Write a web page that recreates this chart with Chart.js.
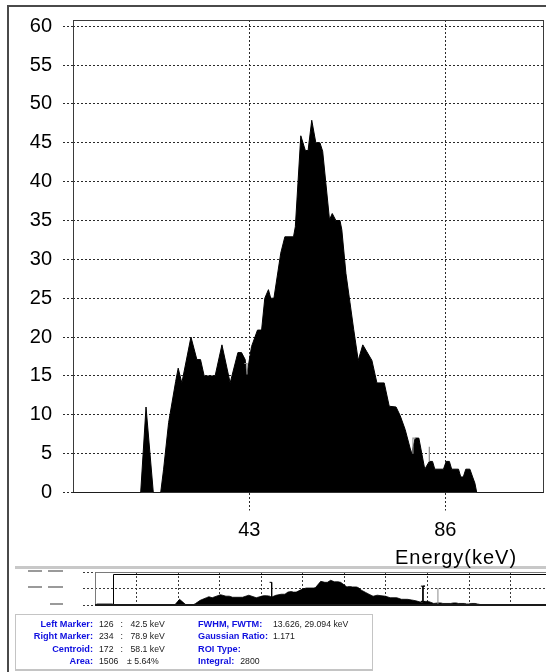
<!DOCTYPE html>
<html><head><meta charset="utf-8">
<script src="https://cdn.jsdelivr.net/npm/chart.js@4.4.1/dist/chart.umd.min.js"></script>
<style>
html,body{margin:0;padding:0;background:#fff;}
body{width:546px;height:672px;position:relative;overflow:hidden;font-family:"Liberation Sans",Arial,sans-serif;}
canvas{position:absolute;}
.ln{position:absolute;}
.t{position:absolute;font-size:8.7px;line-height:12px;white-space:nowrap;color:#1a1a1a;}
.b{font-weight:bold;color:#1010e0;font-size:9.2px;}
.v{font-weight:normal;color:#1a1a1a;font-size:8.7px;margin-left:6px;}
</style></head><body>
<canvas id="main" width="546" height="567" style="left:0;top:0"></canvas>
<canvas id="mini" width="546" height="50" style="left:0;top:562px"></canvas>

<div class="ln" style="left:7px;top:5px;width:2px;height:667px;background:#4a4a4a"></div>
<div class="ln" style="left:7px;top:5px;width:539px;height:2px;background:#4a4a4a"></div>
<div class="ln" style="left:15px;top:566px;width:531px;height:3px;background:#c8c8c8"></div>

<div class="ln" style="left:28px;top:570px;width:14px;height:2px;background:#9a9a9a"></div>
<div class="ln" style="left:48px;top:570px;width:15px;height:2px;background:#9a9a9a"></div>
<div class="ln" style="left:28px;top:586px;width:14px;height:2px;background:#9a9a9a"></div>
<div class="ln" style="left:48px;top:586px;width:15px;height:2px;background:#9a9a9a"></div>
<div class="ln" style="left:50px;top:603px;width:13px;height:2px;background:#9a9a9a"></div>

<div style="position:absolute;left:380px;width:152px;text-align:center;top:545px;font-size:20px;line-height:24px;letter-spacing:1px;color:#000">Energy(keV)</div>

<div style="position:absolute;left:15px;top:614px;width:356px;height:54px;border:1px solid #c4c4c4;border-bottom:2px solid #c4c4c4;background:#fff"></div>

<div class="t b" style="left:0;width:93px;text-align:right;top:618px">Left Marker:</div>
<div class="t b" style="left:0;width:93px;text-align:right;top:630px">Right Marker:</div>
<div class="t b" style="left:0;width:93px;text-align:right;top:643px">Centroid:</div>
<div class="t b" style="left:0;width:93px;text-align:right;top:655px">Area:</div>

<div class="t" style="left:99px;top:618px">126</div><div class="t" style="left:120.5px;top:618px">:</div><div class="t" style="left:130.5px;top:618px">42.5 keV</div>
<div class="t" style="left:99px;top:630px">234</div><div class="t" style="left:120.5px;top:630px">:</div><div class="t" style="left:130.5px;top:630px">78.9 keV</div>
<div class="t" style="left:99px;top:643px">172</div><div class="t" style="left:120.5px;top:643px">:</div><div class="t" style="left:130.5px;top:643px">58.1 keV</div>
<div class="t" style="left:99px;top:655px">1506</div><div class="t" style="left:127px;top:655px">± 5.64%</div>

<div class="t b" style="left:198px;top:618px">FWHM, FWTM:</div><div class="t" style="left:273px;top:618px">13.626, 29.094 keV</div>
<div class="t b" style="left:198px;top:630px">Gaussian Ratio:</div><div class="t" style="left:273px;top:630px">1.171</div>
<div class="t b" style="left:198px;top:643px">ROI Type:</div>
<div class="t b" style="left:198px;top:655px">Integral:<span class="v">2800</span></div>

<script>
// ---- data ----
const energyKeV = [0.3,0.4,4.25,4.3,19.17,20.34,21.94,23.56,24.2,25.3,26.85,27.4,28.2,30.2,31.5,32.3,33.1,35.5,37.0,38.8,40.5,41.3,42.1,42.4,43.5,44.8,45.7,46.4,47.2,47.7,48.4,49.9,50.8,52.7,53.1,54.3,55.3,55.9,56.7,57.6,58.5,59.1,60.6,61.2,62.0,62.9,63.3,64.2,65.1,65.9,66.9,67.9,68.8,69.9,71.0,72.6,73.7,75.2,76.1,77.2,78.6,79.4,80.2,81.5,82.5,83.2,83.7,85.6,86.2,86.9,87.4,88.9,89.4,89.95,90.5,91.4,92.0,92.5,92.9,108.5];
const counts = [0,2,2,0,0,11,0,0,3,9,14.3,16,14.1,20,17.1,17.1,15,15,19,14.1,18,18,17.1,14.9,18.8,20.9,20.9,25,26.1,25,25,30.8,32.9,32.9,34.2,45.9,44,44,47.9,45,45,43.9,35.1,35.9,35,35,33.8,28.2,24.4,21,17,19,18.1,17,14.1,14.1,11.1,11,9.9,8.1,5,7,7,3,4,4,3,3,4,4,3,3,2,2,3,3,2,1.2,0,0];
const yTicks = [0,5,10,15,20,25,30,35,40,45,50,55,60];
const xTicks = [43,86];
const miniXGrid = [10,20,30,40,50,60,70,80,90,100];
const miniYGrid = [0,32,64];
const markerKeV = [42.5,78.9];
const cursorKeV = 82.5;
const mainMarkerSpan = [[15.2,16.6],[5.0,7.0]];
const mainCursorSpan = [4.0,5.9];
const miniMarkerSpan = [[9,44],[7,36.6]];
const miniCursorSpan = [0,32.6];

const X_MIN = 4.32, X_MAX = 107.55, Y_MAX = 60.8;
const MINI_X_MAX = 108.5, MINI_Y_MAX = 64;

const spectrum = energyKeV.map((e,i)=>({x:e,y:counts[i]}));
const FONT = "'Liberation Sans', Arial, sans-serif";
const gridCol = '#2a2a2a';

const boxPlugin = {
  id:'box',
  beforeDatasetsDraw(c){
    const {ctx, chartArea:ca} = c;
    ctx.save(); ctx.strokeStyle='#3a3a3a'; ctx.lineWidth=1;
    ctx.strokeRect(Math.round(ca.left)+0.5, Math.round(ca.top)+0.5, Math.round(ca.right-ca.left)-1, Math.round(ca.bottom-ca.top)-1);
    ctx.restore();
  }
};

const lineDs = (pts, color, w, order) => ({data:pts, borderColor:color, borderWidth:w, fill:false, pointRadius:0, order:order});

new Chart(document.getElementById('main'), {
  type:'line',
  data:{datasets:[
    {data:spectrum, borderColor:'#000', backgroundColor:'#000', borderWidth:1, fill:'origin', pointRadius:0, order:2},
    lineDs([{x:markerKeV[0]-0.6,y:mainMarkerSpan[0][1]},{x:markerKeV[0],y:mainMarkerSpan[0][1]},{x:markerKeV[0],y:mainMarkerSpan[0][0]}], '#8c8c8c', 1.2, 0),
    lineDs([{x:markerKeV[1],y:mainMarkerSpan[1][0]},{x:markerKeV[1],y:mainMarkerSpan[1][1]},{x:markerKeV[1]+0.6,y:mainMarkerSpan[1][1]}], '#9a9a9a', 1.2, 0),
    lineDs([{x:cursorKeV,y:mainCursorSpan[0]},{x:cursorKeV,y:mainCursorSpan[1]}], '#8c8c8c', 1.2, 0)
  ]},
  options:{
    responsive:false, animation:false, devicePixelRatio:1,
    layout:{padding:{top:20,right:2.5,left:0,bottom:0}},
    plugins:{legend:{display:false}, tooltip:{enabled:false}},
    scales:{
      x:{type:'linear', min:X_MIN, max:X_MAX,
         afterBuildTicks:s=>{s.ticks = xTicks.map(v=>({value:v}));},
         afterFit:s=>{s.height = 74.5; s.paddingLeft=0; s.paddingRight=0;},
         ticks:{font:{family:FONT,size:20}, color:'#000', padding:8, maxRotation:0, autoSkip:false},
         grid:{color:gridCol, lineWidth:1, tickLength:18, tickColor:gridCol, tickBorderDash:[2,2]},
         border:{display:false, dash:[2,2]}},
      y:{type:'linear', min:0, max:Y_MAX,
         afterBuildTicks:s=>{s.ticks = yTicks.map(v=>({value:v}));},
         afterFit:s=>{s.width = 73; s.paddingTop=0; s.paddingBottom=0;},
         ticks:{font:{family:FONT,size:20}, color:'#000', padding:11},
         grid:{color:gridCol, lineWidth:1, tickLength:10, tickColor:gridCol, tickBorderDash:[2,2]},
         border:{display:false, dash:[2,2]}}
    }
  },
  plugins:[boxPlugin]
});

const miniFrame = {
  id:'miniFrame',
  beforeDatasetsDraw(c){
    const {ctx, chartArea:ca} = c;
    ctx.save(); ctx.strokeStyle='#7a7a7a'; ctx.lineWidth=1;
    ctx.beginPath();
    ctx.moveTo(Math.round(ca.left)+0.5, ca.bottom);
    ctx.lineTo(Math.round(ca.left)+0.5, Math.round(ca.top)+0.5);
    ctx.lineTo(ca.right, Math.round(ca.top)+0.5);
    ctx.stroke(); ctx.restore();
  },
  afterDatasetsDraw(c){
    const {ctx, chartArea:ca, scales} = c;
    const x0 = Math.round(scales.x.getPixelForValue(X_MIN))+0.5;
    const y0 = Math.round(scales.y.getPixelForValue(Y_MAX))+0.5;
    ctx.save();
    ctx.strokeStyle='#000'; ctx.lineWidth=1;
    ctx.beginPath(); ctx.moveTo(x0, ca.bottom); ctx.lineTo(x0, y0); ctx.lineTo(ca.right, y0); ctx.stroke();
    ctx.strokeStyle='#1a1a1a'; ctx.lineWidth=2;
    ctx.beginPath(); ctx.moveTo(ca.left, ca.bottom); ctx.lineTo(ca.right, ca.bottom); ctx.stroke();
    ctx.restore();
  }
};

const m0 = markerKeV[0], m1 = markerKeV[1];
new Chart(document.getElementById('mini'), {
  type:'line',
  data:{datasets:[
    {data:spectrum, borderColor:'#000', backgroundColor:'#000', borderWidth:0.8, fill:'origin', pointRadius:0, order:2},
    lineDs([{x:m0-0.5,y:miniMarkerSpan[0][1]},{x:m0,y:miniMarkerSpan[0][1]},{x:m0,y:miniMarkerSpan[0][0]},{x:m0-0.5,y:miniMarkerSpan[0][0]}], '#000', 1, 0),
    lineDs([{x:m1-0.5,y:miniMarkerSpan[1][1]},{x:m1+0.5,y:miniMarkerSpan[1][1]},{x:m1,y:miniMarkerSpan[1][1]},{x:m1,y:miniMarkerSpan[1][0]},{x:m1-0.5,y:miniMarkerSpan[1][0]},{x:m1+0.5,y:miniMarkerSpan[1][0]}], '#000', 1, 0),
    lineDs([{x:cursorKeV,y:miniCursorSpan[0]},{x:cursorKeV,y:miniCursorSpan[1]}], '#8c8c8c', 1, 0)
  ]},
  options:{
    responsive:false, animation:false, devicePixelRatio:1,
    layout:{padding:{top:10,right:0,left:0,bottom:0}},
    plugins:{legend:{display:false}, tooltip:{enabled:false}},
    scales:{
      x:{type:'linear', min:0, max:MINI_X_MAX,
         afterBuildTicks:s=>{s.ticks = miniXGrid.map(v=>({value:v}));},
         afterFit:s=>{s.height = 7; s.paddingLeft=0; s.paddingRight=0;},
         ticks:{display:false},
         grid:{color:'#3a3a3a', lineWidth:1, drawTicks:false, tickLength:0},
         border:{display:false, dash:[2,2]}},
      y:{type:'linear', min:0, max:MINI_Y_MAX,
         afterBuildTicks:s=>{s.ticks = miniYGrid.map(v=>({value:v}));},
         afterFit:s=>{s.width = 95; s.paddingTop=0; s.paddingBottom=0;},
         ticks:{display:false},
         grid:{color:'#3a3a3a', lineWidth:1, tickLength:12, tickColor:'#3a3a3a', tickBorderDash:[2,2]},
         border:{display:false, dash:[2,2]}}
    }
  },
  plugins:[miniFrame]
});
</script>
</body></html>
